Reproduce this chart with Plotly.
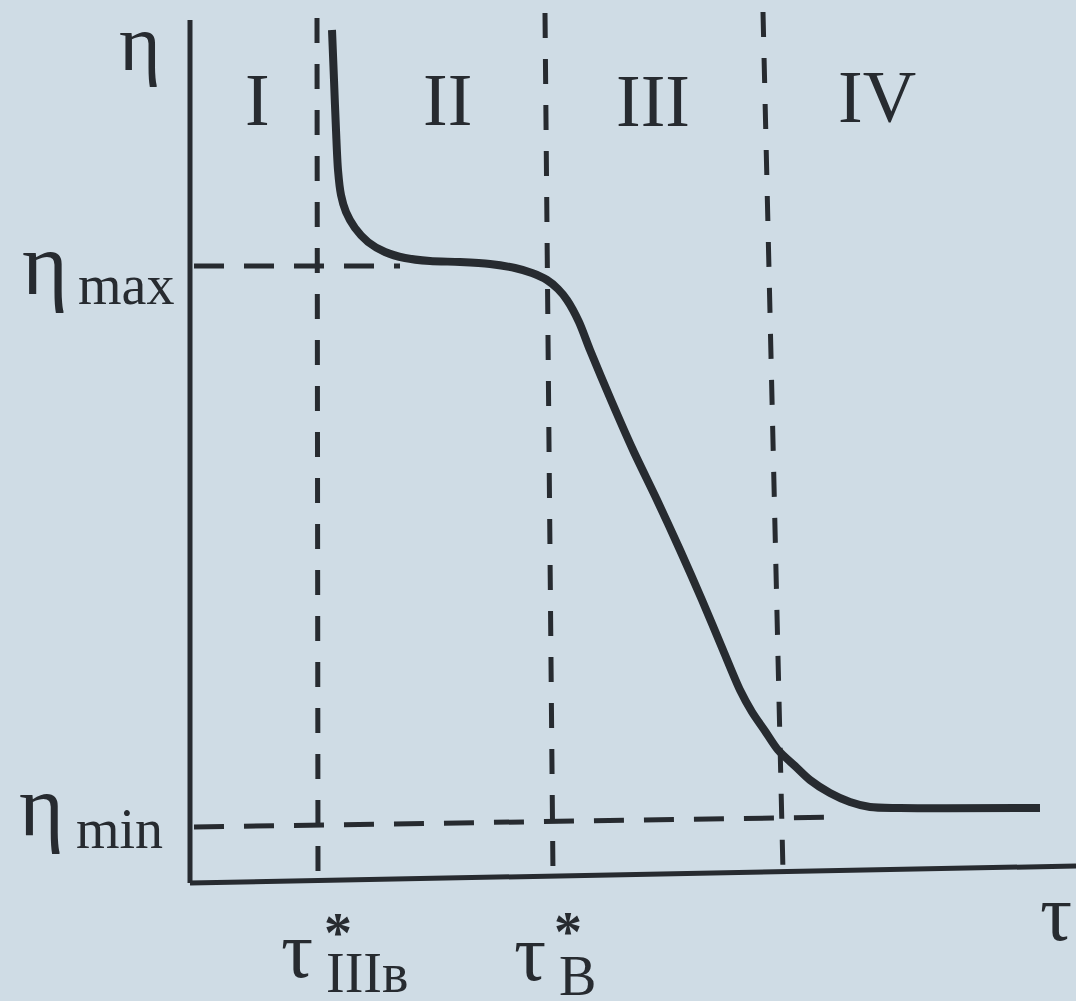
import plotly.graph_objects as go

# ---- data (arbitrary units, origin at axes corner) ----
tau = [1.42, 1.44, 1.46, 1.48, 1.51, 1.56, 1.65, 1.78, 1.95, 2.15, 2.40, 2.70,
       3.00, 3.25, 3.42, 3.57, 3.68, 3.77, 3.89, 4.00, 4.21, 4.43, 4.67, 4.90,
       5.12, 5.33, 5.50, 5.62, 5.75, 5.88, 6.05, 6.20, 6.40, 6.60, 6.80, 7.10, 8.50]
eta = [8.53, 8.03, 7.53, 7.13, 6.88, 6.71, 6.55, 6.41, 6.31, 6.25, 6.22, 6.21,
       6.19, 6.15, 6.10, 6.03, 5.94, 5.83, 5.61, 5.33, 4.83, 4.33, 3.83, 3.33,
       2.83, 2.33, 1.93, 1.71, 1.52, 1.33, 1.17, 1.03, 0.90, 0.81, 0.76, 0.75, 0.75]

eta_max = 6.17
eta_min = [0.56, 0.66]           # dashed level (scan slightly tilted)
tau_iiib = [1.27, 1.28]          # boundary I/II  (top, bottom)
tau_b = [3.55, 3.63]             # boundary II/III
tau_iv = [5.73, 5.93]            # boundary III/IV
regions = ["I", "II", "III", "IV"]

INK = "#272b30"
BG = "#cfdce5"
FONT = "Liberation Serif"

fig = go.Figure()

# axes drawn as lines
fig.add_trace(go.Scatter(x=[0, 0], y=[8.63, 0], mode="lines",
                         line=dict(color=INK, width=5), hoverinfo="skip"))
fig.add_trace(go.Scatter(x=[0, 8.86], y=[0, 0.17], mode="lines",
                         line=dict(color=INK, width=5), hoverinfo="skip"))

dash_v = "25px,21px"
dash_h = "30px,20px"
# vertical dashed boundaries
for xs, ytop, ybot in [(tau_iiib, 8.65, 0.02), (tau_b, 8.70, 0.07), (tau_iv, 8.71, 0.11)]:
    fig.add_trace(go.Scatter(x=xs, y=[ytop, ybot], mode="lines",
                             line=dict(color=INK, width=5, dash=dash_v), hoverinfo="skip"))
# horizontal dashed levels
fig.add_trace(go.Scatter(x=[0.04, 2.10], y=[eta_max, eta_max], mode="lines",
                         line=dict(color=INK, width=5, dash=dash_h), hoverinfo="skip"))
fig.add_trace(go.Scatter(x=[0.04, 6.5], y=eta_min, mode="lines",
                         line=dict(color=INK, width=5, dash=dash_h), hoverinfo="skip"))

# main curve
fig.add_trace(go.Scatter(x=tau, y=eta, mode="lines",
                         line=dict(color=INK, width=8, shape="spline", smoothing=0.8),
                         hoverinfo="skip"))

anns = []
def txt(t, x, y, size, xanchor="center", bold=False):
    if bold:
        t = "<b>" + t + "</b>"
    anns.append(dict(text=t, x=x, y=y, xref="x", yref="y", showarrow=False,
                     xanchor=xanchor, yanchor="middle", borderpad=0,
                     font=dict(family=FONT, size=size, color=INK)))

txt("η", -0.50, 8.40, 80)
for r, xc, yc in zip(regions, [0.67, 2.57, 4.63, 6.87], [7.83, 7.83, 7.82, 7.86]):
    txt(r, xc, yc, 74)
txt("η", -1.45, 6.19, 88)
txt("max", -1.13, 5.98, 56, "left")
txt("η", -1.49, 0.77, 86)
txt("min", -1.15, 0.54, 56, "left")
txt("τ", 1.065, -0.67, 80)
txt("*", 1.48, -0.50, 56, bold=True)
txt("IIIв", 1.35, -0.90, 56, "left")
txt("τ", 3.40, -0.70, 80)
txt("*", 3.775, -0.49, 56, bold=True)
txt("В", 3.68, -0.93, 56, "left")
txt("τ", 8.66, -0.30, 80)

fig.update_layout(
    width=1076, height=1001, autosize=False,
    margin=dict(l=0, r=0, t=0, b=0, pad=0),
    paper_bgcolor=BG, plot_bgcolor=BG,
    showlegend=False,
    xaxis=dict(range=[-1.90, 8.86], visible=False, fixedrange=True),
    yaxis=dict(range=[-1.18, 8.83], visible=False, fixedrange=True),
    annotations=anns,
)

fig.write_html("out.html", config={"displayModeBar": False, "staticPlot": True},
               post_script="document.body.style.margin='0';document.body.style.overflow='hidden';")
